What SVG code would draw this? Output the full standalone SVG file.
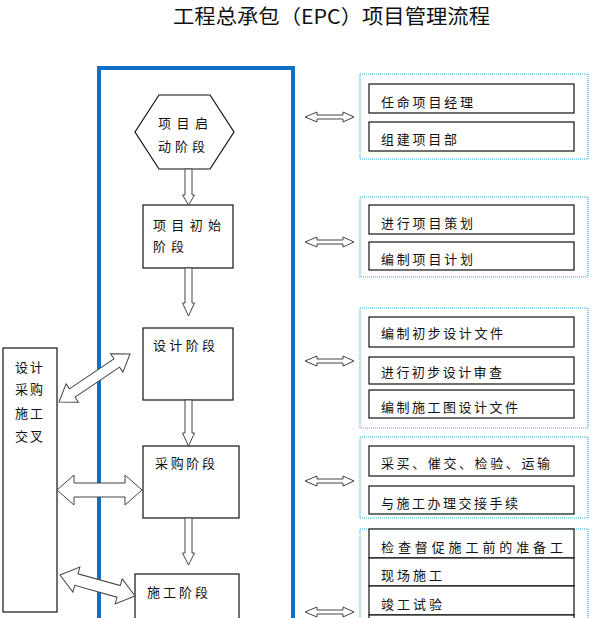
<svg xmlns="http://www.w3.org/2000/svg" xmlns:xlink="http://www.w3.org/1999/xlink" width="594" height="618" viewBox="0 0 594 618">
<style>
text{font-family:"Noto Sans CJK SC","Noto Sans",sans-serif;font-size:13px;fill:#111}
.title{font-size:20px}
.box{fill:#fff;stroke:#111;stroke-width:1.2}
.grp{fill:none;stroke:#3aaee6;stroke-width:1.2;stroke-dasharray:1 1}
.arr{fill:#fff;stroke:#444;stroke-width:1}
.frame{fill:none;stroke:#0e6fc4;stroke-width:4}
</style>
<defs>
<path id="harr" class="arr" d="M0,0 L12,-5 L12,-2 L38,-2 L38,-5 L49,0 L38,5 L38,2 L12,2 L12,5 Z"/>
</defs>
<rect width="594" height="618" fill="#fff"/>
<text class="title" x="173" y="24" textLength="317" lengthAdjust="spacingAndGlyphs">工程总承包（EPC）项目管理流程</text>

<rect class="frame" x="99" y="68" width="194" height="600"/>

<g id="n-start">
<polygon class="box" points="135,132 159,95 210,95 234,132 210,169 159,169"/>
<text x="158" y="128" textLength="50" lengthAdjust="spacing">项目启</text>
<text x="158" y="151" textLength="47" lengthAdjust="spacing">动阶段</text>
</g>
<g id="n-init">
<rect class="box" x="143" y="205" width="90" height="63"/>
<text x="153" y="230" textLength="68" lengthAdjust="spacing">项目初始</text>
<text x="153" y="251" textLength="31" lengthAdjust="spacing">阶段</text>
</g>
<g id="n-design">
<rect class="box" x="143" y="328" width="90" height="72"/>
<text x="153" y="350" textLength="62" lengthAdjust="spacing">设计阶段</text>
</g>
<g id="n-proc">
<rect class="box" x="143" y="446" width="96" height="72"/>
<text x="155" y="468" textLength="60" lengthAdjust="spacing">采购阶段</text>
</g>
<g id="n-cons">
<rect class="box" x="135" y="574" width="104" height="60"/>
<text x="147" y="597" textLength="61" lengthAdjust="spacing">施工阶段</text>
</g>
<g id="n-cross">
<rect class="box" x="3" y="348" width="54" height="264"/>
<text x="15" y="372" textLength="28" lengthAdjust="spacing">设计</text>
<text x="15" y="394" textLength="28" lengthAdjust="spacing">采购</text>
<text x="15" y="418" textLength="28" lengthAdjust="spacing">施工</text>
<text x="15" y="441" textLength="28" lengthAdjust="spacing">交叉</text>
</g>

<g id="g-start">
<rect class="grp" x="360" y="74" width="228" height="85"/>
<rect class="box" x="369" y="84" width="205" height="29"/>
<text x="381" y="107" textLength="92" lengthAdjust="spacing">任命项目经理</text>
<rect class="box" x="369" y="122" width="205" height="29"/>
<text x="381" y="144" textLength="76" lengthAdjust="spacing">组建项目部</text>
</g>
<g id="g-init">
<rect class="grp" x="360" y="197" width="228" height="80"/>
<rect class="box" x="369" y="205" width="205" height="29"/>
<text x="381" y="228" textLength="92" lengthAdjust="spacing">进行项目策划</text>
<rect class="box" x="369" y="242" width="205" height="28"/>
<text x="381" y="264" textLength="92" lengthAdjust="spacing">编制项目计划</text>
</g>
<g id="g-design">
<rect class="grp" x="360" y="308" width="228" height="120"/>
<rect class="box" x="369" y="317" width="205" height="30"/>
<text x="381" y="338" textLength="122" lengthAdjust="spacing">编制初步设计文件</text>
<rect class="box" x="369" y="357" width="205" height="27"/>
<text x="381" y="377" textLength="121" lengthAdjust="spacing">进行初步设计审查</text>
<rect class="box" x="369" y="390" width="205" height="28"/>
<text x="381" y="412" textLength="137" lengthAdjust="spacing">编制施工图设计文件</text>
</g>
<g id="g-proc">
<rect class="grp" x="360" y="437" width="228" height="81"/>
<rect class="box" x="369" y="446" width="205" height="30"/>
<text x="381" y="468" textLength="169" lengthAdjust="spacing">采买、催交、检验、运输</text>
<rect class="box" x="369" y="486" width="205" height="28"/>
<text x="381" y="508" textLength="137" lengthAdjust="spacing">与施工办理交接手续</text>
</g>
<g id="g-cons">
<rect class="grp" x="360" y="529" width="228" height="120"/>
<rect class="box" x="369" y="529" width="205" height="29"/>
<text x="381" y="552" textLength="182" lengthAdjust="spacing">检查督促施工前的准备工</text>
<rect class="box" x="369" y="558" width="205" height="28"/>
<text x="381" y="580" textLength="61" lengthAdjust="spacing">现场施工</text>
<rect class="box" x="369" y="586" width="205" height="29"/>
<text x="381" y="609" textLength="61" lengthAdjust="spacing">竣工试验</text>
<rect class="box" x="369" y="615" width="205" height="20"/>
</g>

<g id="connectors">
<path class="arr" d="M185,169 L192,169 L192,195 L194.5,195 L188.5,205 L182.5,195 L185,195 Z"/>
<path class="arr" d="M185,268 L192,268 L192,303 L194.5,303 L188.5,316 L182.5,303 L185,303 Z"/>
<path class="arr" d="M185,400 L192,400 L192,433 L194.5,433 L188.5,446 L182.5,433 L185,433 Z"/>
<path class="arr" d="M185,518 L192,518 L192,553 L194.5,553 L188.5,565 L182.5,553 L185,553 Z"/>
<path class="arr" d="M57,490 L74,475 L74,483 L125,483 L125,475 L142,490 L125,505 L125,497 L74,497 L74,505 Z"/>
<path class="arr" transform="translate(59,402) rotate(-34.06)" d="M0,0 L16,-11 L16,-5 L69.7,-5 L69.7,-11 L85.7,0 L69.7,11 L69.7,5 L16,5 L16,11 Z"/>
<path class="arr" transform="translate(60,575) rotate(15.6)" d="M0,0 L17,-13 L17,-6 L60.9,-6 L60.9,-13 L77.9,0 L60.9,13 L60.9,6 L17,6 L17,13 Z"/>
<use xlink:href="#harr" href="#harr" x="305" y="117"/>
<use xlink:href="#harr" href="#harr" x="305" y="242"/>
<use xlink:href="#harr" href="#harr" x="305" y="361"/>
<use xlink:href="#harr" href="#harr" x="305" y="481"/>
<use xlink:href="#harr" href="#harr" x="305" y="612"/>
</g>
</svg>
